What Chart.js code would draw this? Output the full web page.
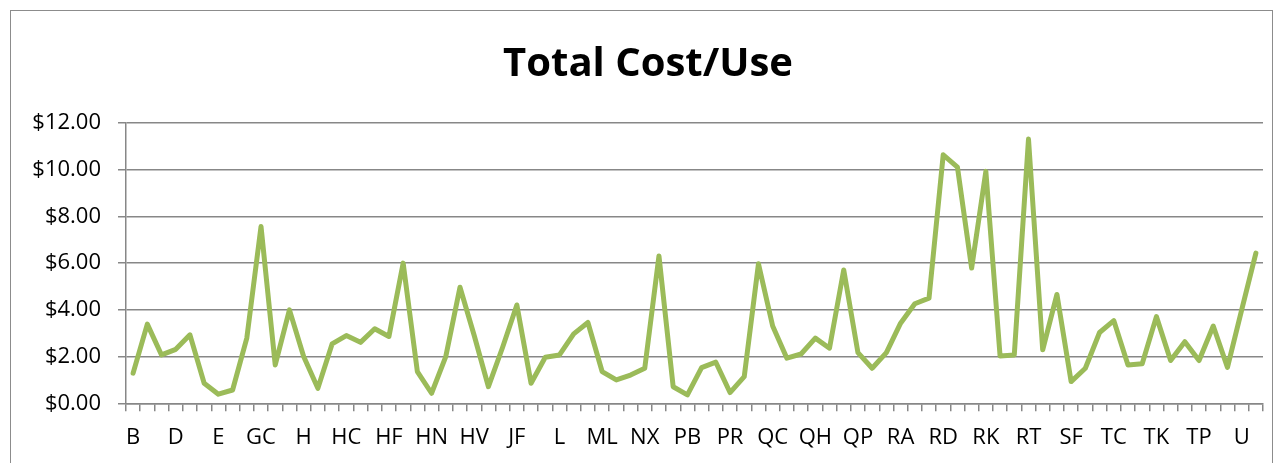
<!DOCTYPE html>
<html>
<head>
<meta charset="utf-8">
<title>Total Cost/Use</title>
<script src="https://cdn.jsdelivr.net/npm/chart.js@4/dist/chart.umd.min.js"></script>
<style>
  html, body { margin: 0; padding: 0; background: #fff; }
  #wrap { position: relative; width: 1275px; height: 463px; overflow: hidden; }
  #frame {
    position: absolute; left: 10px; top: 10px; width: 1261px; height: 480px;
    border: 1px solid #8c8c8c; pointer-events: none;
  }
</style>
</head>
<body>
<div id="wrap">
  <canvas id="costChart" width="1275" height="463"></canvas>
  <div id="frame"></div>
</div>
<script>
'use strict';

// tick labels shown on the x axis (every 3rd category)
const tickLabels = ['B', 'D', 'E', 'GC', 'H', 'HC', 'HF', 'HN', 'HV', 'JF', 'L', 'ML', 'NX',
    'PB', 'PR', 'QC', 'QH', 'QP', 'RA', 'RD', 'RK', 'RT', 'SF', 'TC', 'TK', 'TP', 'U'];

// total cost per use, one value per category (80)
const costPerUse = [
    1.29, 3.39, 2.07, 2.31, 2.93, 0.86, 0.39, 0.57, 2.79, 7.57,
    1.64, 4.00, 2.00, 0.64, 2.54, 2.90, 2.61, 3.19, 2.86, 6.00,
    1.36, 0.43, 2.00, 4.97, 2.90, 0.71, 2.40, 4.21, 0.86, 1.97,
    2.07, 2.97, 3.46, 1.36, 1.00, 1.21, 1.50, 6.31, 0.71, 0.36,
    1.53, 1.76, 0.46, 1.14, 5.97, 3.31, 1.93, 2.11, 2.79, 2.36,
    5.71, 2.17, 1.50, 2.17, 3.43, 4.26, 4.50, 10.64, 10.11, 5.79,
    9.93, 2.03, 2.07, 11.31, 2.29, 4.66, 0.93, 1.50, 3.03, 3.54,
    1.64, 1.69, 3.71, 1.83, 2.64, 1.83, 3.31, 1.54, 4.00, 6.43
];

// only every third category name is readable on the axis
const categories = costPerUse.map((v, i) => (i % 3 === 0 ? tickLabels[i / 3] : ''));

const gridColor = '#878787';
const fontFamily = '"Open Sans", "DejaVu Sans", sans-serif';
const padLeft = 33;

const ctx = document.getElementById('costChart').getContext('2d');

new Chart(ctx, {
    type: 'line',
    data: {
        labels: categories,
        datasets: [{
            label: 'Total Cost/Use',
            data: costPerUse,
            borderColor: '#9bbb59',
            borderWidth: 5,
            borderJoinStyle: 'round',
            borderCapStyle: 'round',
            pointRadius: 0,
            tension: 0,
            fill: false
        }]
    },
    options: {
        responsive: false,
        animation: false,
        layout: { padding: { left: padLeft, right: 12, top: 0, bottom: 0 } },
        plugins: {
            legend: { display: false },
            tooltip: { enabled: false },
            title: {
                display: true,
                text: 'Total Cost/Use',
                color: '#000',
                font: { family: fontFamily, size: 40, weight: 'bold', lineHeight: 1.2 },
                padding: { top: 41, bottom: 34 }
            }
        },
        scales: {
            x: {
                type: 'category',
                offset: true,
                grid: {
                    offset: true,
                    drawOnChartArea: false,
                    drawTicks: true,
                    tickLength: 8,
                    color: gridColor,
                    lineWidth: 1.5
                },
                border: { color: gridColor, width: 1.5 },
                ticks: {
                    autoSkip: false,
                    maxRotation: 0,
                    minRotation: 0,
                    color: '#000',
                    padding: 13,
                    font: { family: fontFamily, size: 22 }
                },
                afterFit: function(scale) { scale.height = 59.7; }
            },
            y: {
                min: 0,
                max: 12,
                ticks: {
                    stepSize: 2,
                    color: '#000',
                    padding: 17,
                    font: { family: fontFamily, size: 22 },
                    callback: function(value) { return '$' + value.toFixed(2); }
                },
                grid: {
                    color: gridColor,
                    lineWidth: 1.5,
                    tickLength: 8
                },
                border: { color: gridColor, width: 1.5 },
                afterFit: function(scale) { scale.width = 126 - padLeft; }
            }
        }
    }
});
</script>
</body>
</html>
